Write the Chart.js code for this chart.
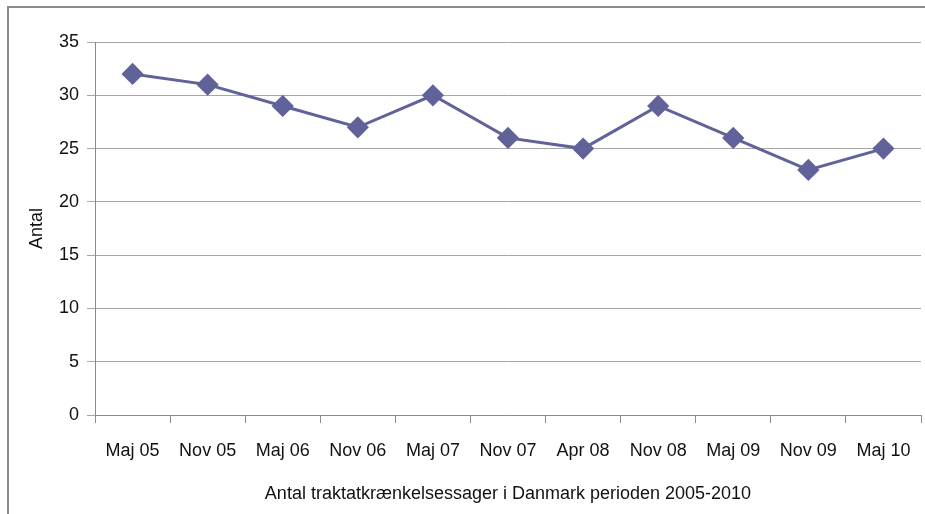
<!DOCTYPE html>
<html>
<head>
<meta charset="utf-8">
<script src="https://cdn.jsdelivr.net/npm/chart.js@4"></script>
<style>
  html, body { margin: 0; padding: 0; background: #fff; }
  #wrap { position: relative; width: 925px; height: 514px; }
  #frame { position: absolute; left: 7px; top: 6px; width: 930px; height: 520px;
           border-top: 2px solid #8c8c8c; border-left: 2px solid #8c8c8c; }
  canvas { position: absolute; left: 0; top: 0; }
</style>
</head>
<body>
<div id="wrap">
  <div id="frame"></div>
  <canvas id="chart" width="925" height="514"></canvas>
</div>
<script>
  const periods = ["Maj 05", "Nov 05", "Maj 06", "Nov 06", "Maj 07", "Nov 07", "Apr 08", "Nov 08", "Maj 09", "Nov 09", "Maj 10"]
  const cases = [32, 31, 29, 27, 30, 26, 25, 29, 26, 23, 25]
  const yTitle = "Antal"
  const xTitle = "Antal traktatkrænkelsessager i Danmark perioden 2005-2010"

  const font = { family: "'Liberation Sans', Arial, sans-serif", size: 18 }
  const lineColor = "#62629a"

  let ctx = document.getElementById("chart").getContext("2d")
  let myChart = new Chart(ctx, {
    type: "line",
    data: {
      labels: periods,
      datasets: [{
        data: cases,
        borderColor: lineColor,
        backgroundColor: lineColor,
        borderWidth: 3,
        pointStyle: "rectRot",
        pointRadius: 9,
        pointHoverRadius: 9,
        tension: 0,
      }]
    },
    options: {
      responsive: false,
      animation: false,
      layout: { autoPadding: false, padding: { left: 24, top: 42, right: 4, bottom: 5 } },
      plugins: {
        legend: { display: false },
        tooltip: { enabled: false },
      },
      scales: {
        x: {
          offset: true,
          grid: { display: true, drawOnChartArea: false, drawTicks: true, tickLength: 8, color: "#8c8c8c", offset: true },
          border: { color: "#8c8c8c", width: 1 },
          ticks: { color: "#111", font: font, padding: 17, maxRotation: 0, autoSkip: false },
          title: { display: true, text: xTitle, color: "#111", font: font, padding: { top: 16 } },
          afterFit: (scale) => {
            scale.height = 94
            scale.paddingLeft = 0
            scale.paddingRight = 0
          },
        },
        y: {
          min: 0,
          max: 35,
          ticks: { stepSize: 5, color: "#111", font: font, padding: 8 },
          grid: { color: "#a6a6a6", lineWidth: 1, tickLength: 8 },
          border: { color: "#8c8c8c", width: 1 },
          title: { display: true, text: yTitle, color: "#111", font: font, padding: { top: 2, bottom: 0 } },
          afterFit: (scale) => {
            scale.width = 71
            scale.paddingTop = 0
            scale.paddingBottom = 0
          },
        },
      },
    },
  })
</script>
</body>
</html>
